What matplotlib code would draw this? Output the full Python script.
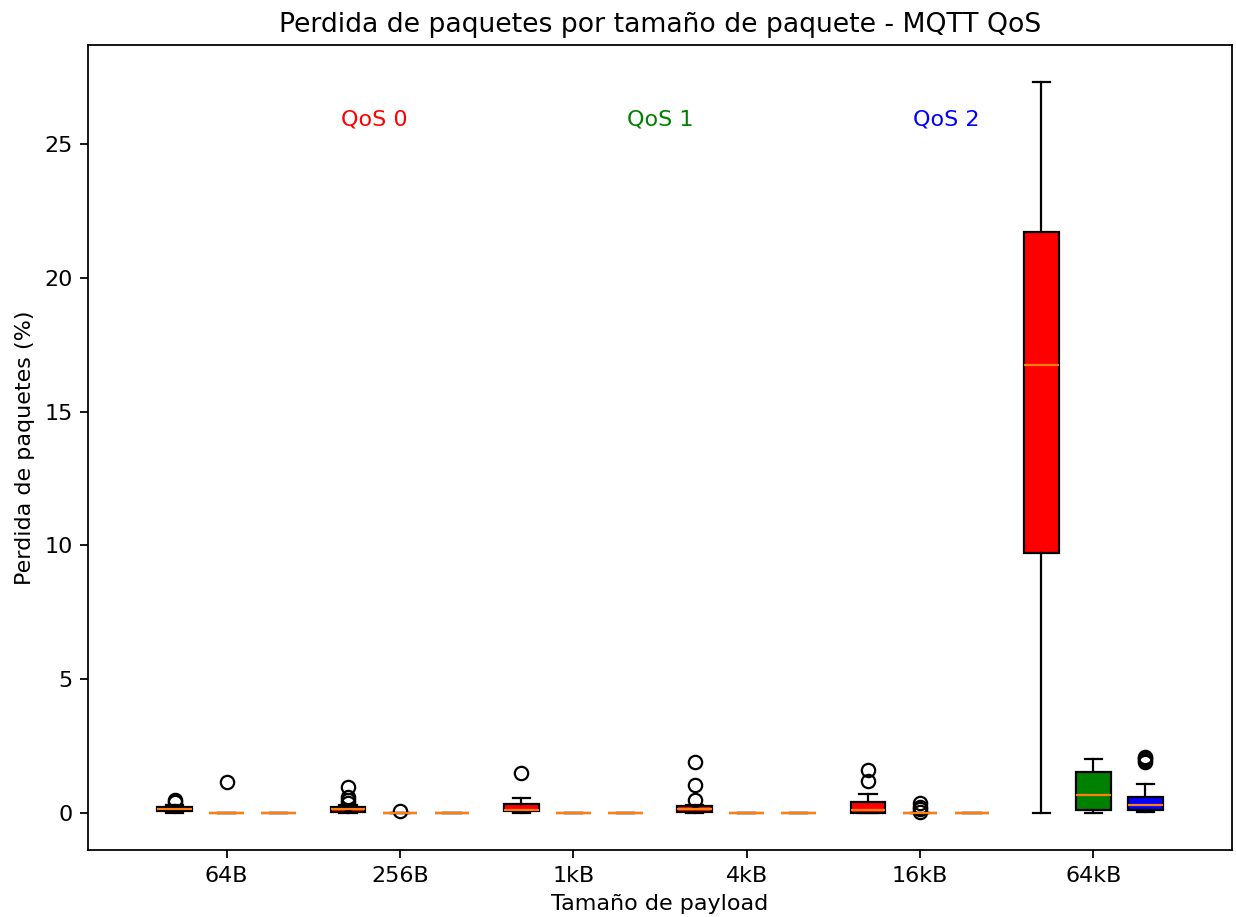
import matplotlib.pyplot as plt

# Payload sizes and QoS levels
payloads = ['64B', '256B', '1kB', '4kB', '16kB', '64kB']
qos_names = ['QoS 0', 'QoS 1', 'QoS 2']
qos_colors = ['red', 'green', 'blue']

# Box statistics (% packet loss), one list per QoS
q0_med = [0.15, 0.15, 0.14, 0.16, 0.11, 16.74]
q0_q1 = [0.08, 0.06, 0.07, 0.06, 0.03, 9.72]
q0_q3 = [0.22, 0.24, 0.34, 0.26, 0.42, 21.71]
q0_lo = [0.03, 0.02, 0.0, 0.02, 0.0, 0.0]
q0_hi = [0.30, 0.30, 0.59, 0.30, 0.71, 27.32]
q0_fliers = [[0.42, 0.5], [0.4, 0.5, 0.6, 0.98], [1.52], [0.51, 1.07, 1.92], [1.2, 1.62], []]

q1_med = [0.0, 0.0, 0.0, 0.0, 0.0, 0.70]
q1_q1 = [0.0, 0.0, 0.0, 0.0, 0.0, 0.11]
q1_q3 = [0.0, 0.0, 0.0, 0.0, 0.0, 1.54]
q1_lo = [0.0, 0.0, 0.0, 0.0, 0.0, 0.0]
q1_hi = [0.0, 0.0, 0.0, 0.0, 0.0, 2.02]
q1_fliers = [[1.18], [0.1], [], [], [0.05, 0.15, 0.25, 0.38], []]

q2_med = [0.0, 0.0, 0.0, 0.0, 0.0, 0.30]
q2_q1 = [0.0, 0.0, 0.0, 0.0, 0.0, 0.11]
q2_q3 = [0.0, 0.0, 0.0, 0.0, 0.0, 0.61]
q2_lo = [0.0, 0.0, 0.0, 0.0, 0.0, 0.05]
q2_hi = [0.0, 0.0, 0.0, 0.0, 0.0, 1.11]
q2_fliers = [[], [], [], [], [], [1.9, 1.98, 2.05, 2.12]]

all_stats = [
    (q0_med, q0_q1, q0_q3, q0_lo, q0_hi, q0_fliers),
    (q1_med, q1_q1, q1_q3, q1_lo, q1_hi, q1_fliers),
    (q2_med, q2_q1, q2_q3, q2_lo, q2_hi, q2_fliers),
]

offsets = [-0.3, 0.0, 0.3]
label_x = [0.85, 2.5, 4.15]
label_y = 25.9

fig = plt.figure(figsize=(1236 / 160, 917 / 160), dpi=160)
ax = fig.add_axes([0.0712, 0.0731, 0.9256, 0.8779])

for k, (med, q1, q3, lo, hi, fl) in enumerate(all_stats):
    stats = []
    for i in range(len(payloads)):
        stats.append({'med': med[i], 'q1': q1[i], 'q3': q3[i],
                      'whislo': lo[i], 'whishi': hi[i], 'fliers': fl[i]})
    pos = [i + offsets[k] for i in range(len(payloads))]
    bp = ax.bxp(stats, positions=pos, widths=0.2, patch_artist=True,
                manage_ticks=False)
    for patch in bp['boxes']:
        patch.set_facecolor(qos_colors[k])
    ax.text(label_x[k], label_y, qos_names[k], color=qos_colors[k],
            ha='center', va='center')

ax.set_xticks(range(len(payloads)))
ax.set_xticklabels(payloads)
ax.set_xlim(-0.8, 5.8)
ax.set_title('Perdida de paquetes por tamaño de paquete - MQTT QoS')
ax.set_xlabel('Tamaño de payload')
ax.set_ylabel('Perdida de paquetes (%)')

fig.savefig('out.png', dpi=160)
